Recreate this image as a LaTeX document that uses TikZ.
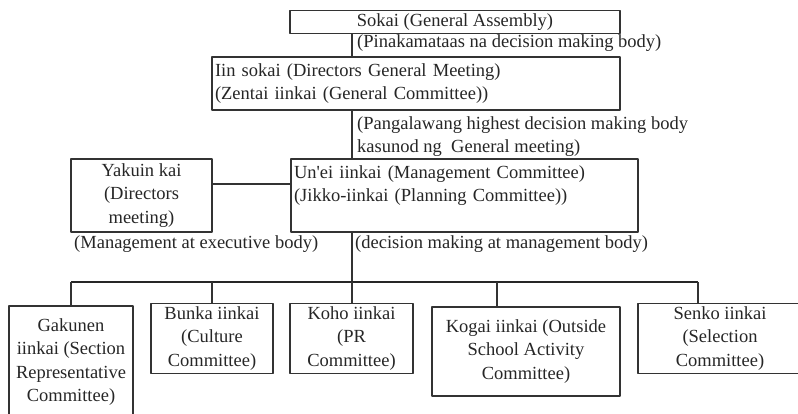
\documentclass[tikz,border=0pt]{standalone}
\usepackage{fontspec}
\setmainfont{Liberation Serif}
\begin{document}
\begin{tikzpicture}[x=1pt,y=1pt,line join=round,font=\fontsize{18.5}{23.5}\selectfont,
	box/.style={draw=black!80,line width=1.1pt,inner sep=3pt,text=black!85},
	note/.style={inner sep=0pt,anchor=west,align=left,text=black!85},
	link/.style={draw=black!80,line width=1.1pt},
	bus/.style={draw=black!85,line width=1.8pt}]
			\useasboundingbox (0,0) rectangle (798,-414);
			\node[box,minimum width=330,minimum height=22] (sokai) at (455,-22) {Sokai (General Assembly)};
			\node[box,text width=402,minimum height=53,align=left] (iin) at (416,-83.5) {Iin sokai (Directors General Meeting)\\(Zentai iinkai (General Committee))};
			\node[box,text width=341,minimum height=73,align=left] (unei) at (464.5,-195.5) {Un\textquotesingle ei iinkai (Management Committee)\\(Jikko-iinkai (Planning Committee))\\\mbox{}};
			\node[box,minimum width=141,minimum height=73,align=center] (yakuin) at (141.5,-195.5) {Yakuin kai\\(Directors\\meeting)};
			\node[box,minimum width=124,minimum height=112,align=center] (gakunen) at (71,-362) {Gakunen\\iinkai (Section\\Representative\\Committee)};
			\node[box,minimum width=122,minimum height=63,align=center] (bunka) at (212,-338.5) {Bunka iinkai\\(Culture\\Committee)};
			\node[box,minimum width=123,minimum height=63,align=center] (koho) at (351.5,-338.5) {Koho iinkai\\(PR\\Committee)};
			\node[box,minimum width=188,minimum height=89,align=center] (kogai) at (526,-351.5) {Kogai iinkai (Outside\\School Activity\\Committee)};
			\node[box,minimum width=164,minimum height=65,align=center] (senko) at (720,-338.5) {Senko iinkai\\(Selection\\Committee)};
			\coordinate (spine) at (352,0);
			\coordinate (bus) at (352,-282);
			\draw[link] (sokai.south -| spine) -- (iin.north -| spine) (iin.south -| spine) -- (unei.north -| spine) (unei.south -| spine) -- (bus);
			\draw[link] ([yshift=11.5]yakuin.east) -- ([yshift=11.5]unei.west);
			\draw[bus] (gakunen.north |- bus) -- ([xshift=-22]senko.north |- bus);
			\foreach \n/\dx in {gakunen/0,bunka/0,koho/0.5,kogai/-29,senko/-22}
				\draw[link] ([xshift=\dx]\n.north |- bus) -- ([xshift=\dx]\n.north);
			\node[note] (top) at (357,-43) {(Pinakamataas na decision making body)};
			\node[note] (second) at (357,-136.5) {(Pangalawang highest decision making body\\kasunod ng\ \ General meeting)};
			\node[note] (exec) at (74,-244) {(Management at executive body)};
			\node[note] (mgmt) at (355,-244) {(decision making at management body)};
			\end{tikzpicture}
\end{document}
